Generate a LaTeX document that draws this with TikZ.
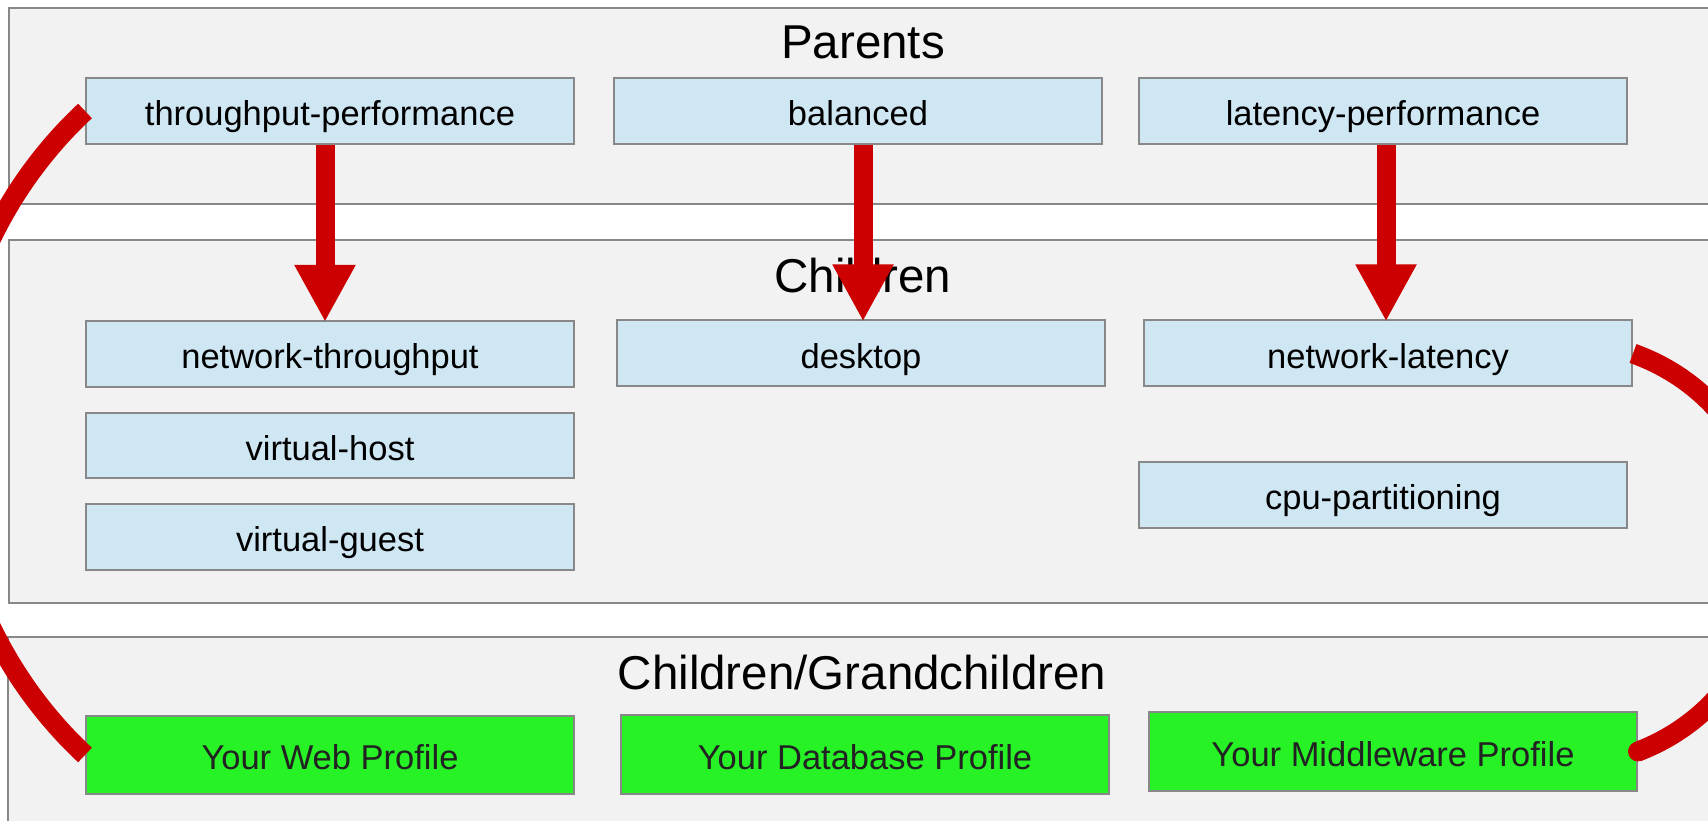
\documentclass[tikz,border=0pt]{standalone}
\usepackage{fontspec}
\setmainfont{Liberation Sans}
\usetikzlibrary{arrows.meta}
\definecolor{panelfill}{RGB}{242,242,242}
\definecolor{panelline}{RGB}{136,136,136}
\definecolor{boxblue}{RGB}{207,230,243}
\definecolor{boxgreen}{RGB}{38,242,38}
\definecolor{arrred}{RGB}{204,0,0}
\definecolor{darktext}{RGB}{34,34,34}
\begin{document}
\begin{tikzpicture}[x=1pt,y=1pt,
 panel/.style={draw=panelline, line width=2pt, fill=panelfill},
 prof/.style={draw=panelline, line width=2pt, fill=boxblue, minimum width=488pt, minimum height=66pt, inner sep=0pt, font=\fontsize{34.5}{40}\selectfont, text height=32.8pt, text depth=3.1pt},
 mine/.style={prof, fill=boxgreen, text=darktext, minimum height=79pt},
 title/.style={anchor=base, font=\fontsize{47.5}{55}\selectfont},
 inherit/.style={draw=arrred, line width=19pt, -{Triangle[length=57pt 0 0, width=57pt 0 0]}},
 loopline/.style={draw=arrred, line width=20pt}
]
\useasboundingbox (0,0) rectangle (1708,821);
\clip (0,0) rectangle (1708,821);
% panels
\path[panel] (9,617) rectangle (1730,813);
\path[panel] (9,218) rectangle (1730,581);
\path[panel] (8,-20) rectangle (1730,184);
% titles
\node[title] (tpar) at (863,762) {Parents};
\node[title] (tchi) at (863,528) {Children};
\node[title] (tgra) at (862,131) {Children/Grandchildren};
% parents
\node[prof] (tp) at (330,710) {throughput-performance};
\node[prof] (bal) at (858,710) {balanced};
\node[prof] (lp) at (1383,710) {latency-performance};
% children
\node[prof] (nt) at (330,467) {network-throughput};
\node[prof, minimum height=65pt] (vh) at (330,375.5) {virtual-host};
\node[prof] (vg) at (330,284) {virtual-guest};
\node[prof] (dk) at (861,467.5) {desktop};
\node[prof] (nl) at (1388,467.5) {network-latency};
\node[prof] (cpu) at (1383,326) {cpu-partitioning};
% grandchildren
\node[mine, minimum height=78pt] (wp) at (330,66) {Your Web Profile};
\node[mine] (dp) at (865,66.5) {Your Database Profile};
\node[mine] (mp) at (1393,69.5) {Your Middleware Profile};
% inheritance arrows
\draw[inherit] ([xshift=-5pt]tp.south) -- ([xshift=-5pt,yshift=-2pt]tp.south |- nt.north);
\draw[inherit] ([xshift=5pt]bal.south) -- ([xshift=5pt,yshift=-2pt]bal.south |- dk.north);
\draw[inherit] ([xshift=3pt]lp.south) -- ([xshift=3pt,yshift=-2pt]lp.south |- nl.north);
% loops
\draw[loopline] (tp.west) .. controls +(-184,-172) and +(-184,172) .. (wp.west);
\draw[loopline] (nl.east) .. controls +(181,-65) and +(179,69) .. (mp.east);
\fill[arrred] (mp.east) circle (10pt);
\end{tikzpicture}
\end{document}
